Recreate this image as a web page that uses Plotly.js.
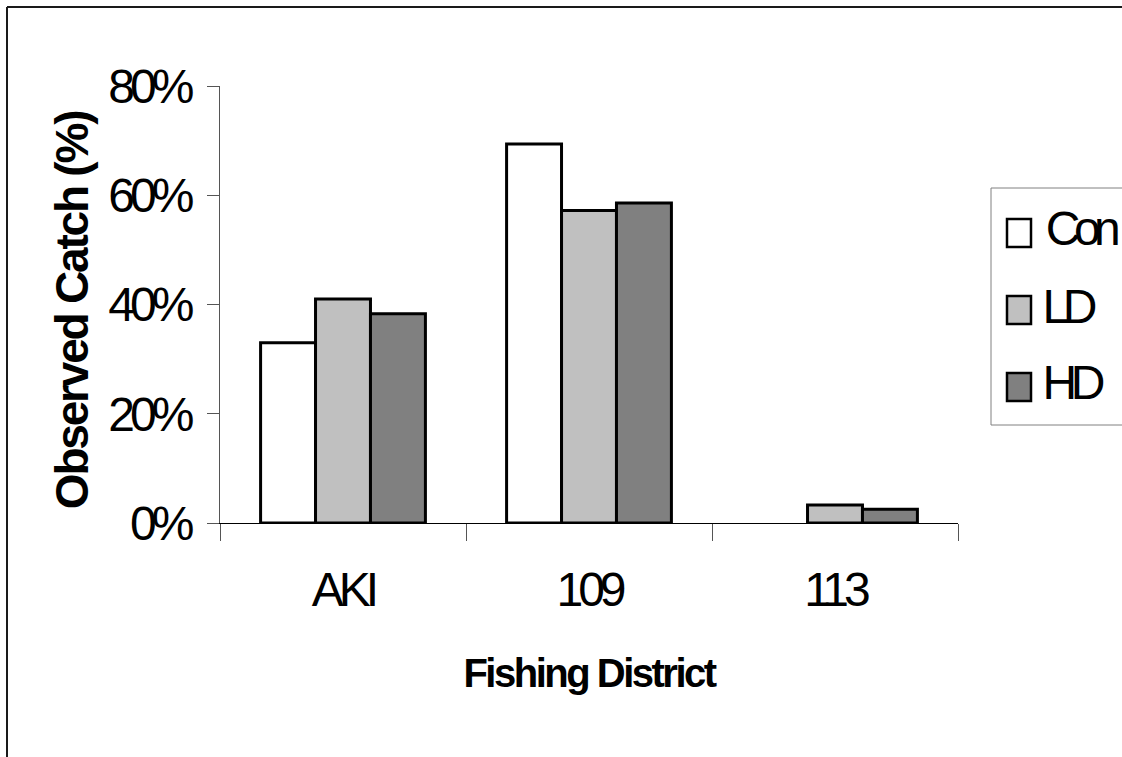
<!DOCTYPE html>
<html>
<head>
<meta charset="utf-8">
<script src="https://cdn.plot.ly/plotly-3.0.1.min.js"></script>
<style>
  html, body { margin: 0; padding: 0; background: #fff; }
  #chart { width: 1122px; height: 757px; }
  /* tighter set text, close to a condensed Arial look */
  #chart .xtick text, #chart .ytick text { letter-spacing: -5px; }
  #chart text.xtitle { letter-spacing: -2.5px; }
  #chart .annotation.ytitle-note text { letter-spacing: -2.2px; }
  #chart .annotation.key-label text { letter-spacing: -6.5px; }
</style>
</head>
<body>
<div id="chart"></div>
<script>
// Fishing districts on the x axis
const districts = ['AKI', '109', '113'];

// Observed catch (%) for each treatment group (no Con bar at 113)
const seriesNames = ['Con', 'LD', 'HD'];
const conValues = [33.0, 69.4, null];
const ldValues = [41.0, 57.2, 3.3];
const hdValues = [38.3, 58.6, 2.5];

// Y axis ticks
const yTickVals = [0, 20, 40, 60, 80];
const yTickText = ['0%', '20%', '40%', '60%', '80%'];

const fills = ['#FFFFFF', '#C0C0C0', '#808080'];
const valuesBySeries = [conValues, ldValues, hdValues];

const font = 'Liberation Sans, Arial, sans-serif';

const traces = seriesNames.map((name, i) => ({
  type: 'bar',
  name: name,
  x: districts,
  y: valuesBySeries[i],
  marker: { color: fills[i], line: { color: '#000000', width: 3 } },
  hoverinfo: 'x+y+name'
}));

// Plot-area geometry in pixels, used to place the frame and the key in paper units
const W = 1122, H = 757;
const M = { l: 220, r: 164, t: 86, b: 234 };
const pw = W - M.l - M.r, ph = H - M.t - M.b;
const px = v => (v - M.l) / pw;
const py = v => (H - M.b - v) / ph;

const shapes = [
  // outer chart frame (left and top edges)
  { type: 'line', xref: 'paper', yref: 'paper', x0: px(7), x1: px(7), y0: py(7), y1: py(770),
    line: { color: '#1a1a1a', width: 2 } },
  { type: 'line', xref: 'paper', yref: 'paper', x0: px(7), x1: px(1130), y0: py(7), y1: py(7),
    line: { color: '#1a1a1a', width: 2 } },
  // key box
  { type: 'rect', xref: 'paper', yref: 'paper', x0: px(991), x1: px(1130), y0: py(188), y1: py(425),
    line: { color: '#808080', width: 1 }, fillcolor: 'rgba(0,0,0,0)' }
];

const annotations = [
  // y axis title, vertical
  {
    xref: 'paper', yref: 'paper', x: px(72), y: py(311),
    xanchor: 'center', yanchor: 'middle', textangle: -90, showarrow: false,
    text: 'Observed Catch (%)',
    font: { family: font, size: 46, color: '#000', weight: 'bold' }
  }
];
const keyRows = [233, 310, 387];
seriesNames.forEach((name, i) => {
  const cy = keyRows[i];
  shapes.push({
    type: 'rect', xref: 'paper', yref: 'paper',
    x0: px(1007), x1: px(1031), y0: py(cy - 14), y1: py(cy + 14),
    fillcolor: fills[i], line: { color: '#000000', width: 2.5 }
  });
  annotations.push({
    xref: 'paper', yref: 'paper', x: px(1034), y: py(cy - 4),
    xanchor: 'left', yanchor: 'middle', showarrow: false,
    text: name, font: { family: font, size: 48, color: '#000' }
  });
});

const layout = {
  width: W, height: H,
  margin: M,
  paper_bgcolor: '#FFFFFF',
  plot_bgcolor: '#FFFFFF',
  showlegend: false,
  barmode: 'group',
  bargap: 0.33,
  bargroupgap: 0,
  font: { family: font, color: '#000' },
  xaxis: {
    type: 'category',
    showgrid: false,
    zeroline: false,
    showline: true, linecolor: '#000000', linewidth: 1,
    ticks: 'outside', tickson: 'boundaries', ticklen: 17, tickcolor: '#555555', tickwidth: 1,
    ticklabelstandoff: 24,
    tickfont: { family: font, size: 48, color: '#000' },
    title: { text: 'Fishing District', standoff: 44,
             font: { family: font, size: 40, color: '#000', weight: 'bold' } },
    fixedrange: true
  },
  yaxis: {
    range: [0, 80],
    tickvals: yTickVals, ticktext: yTickText,
    showgrid: false,
    zeroline: false,
    showline: true, linecolor: '#555555', linewidth: 1,
    ticks: 'outside', ticklen: 12, tickcolor: '#555555', tickwidth: 1,
    ticklabelstandoff: 8,
    tickfont: { family: font, size: 48, color: '#000' },
    fixedrange: true
  },
  shapes: shapes,
  annotations: annotations
};

Plotly.newPlot('chart', traces, layout, { displayModeBar: false, staticPlot: true }).then(gd => {
  // tag annotation groups so their text can be styled separately
  gd.querySelectorAll('g.annotation').forEach((g, i) => {
    g.classList.add(i === 0 ? 'ytitle-note' : 'key-label');
  });
});
</script>
</body>
</html>
